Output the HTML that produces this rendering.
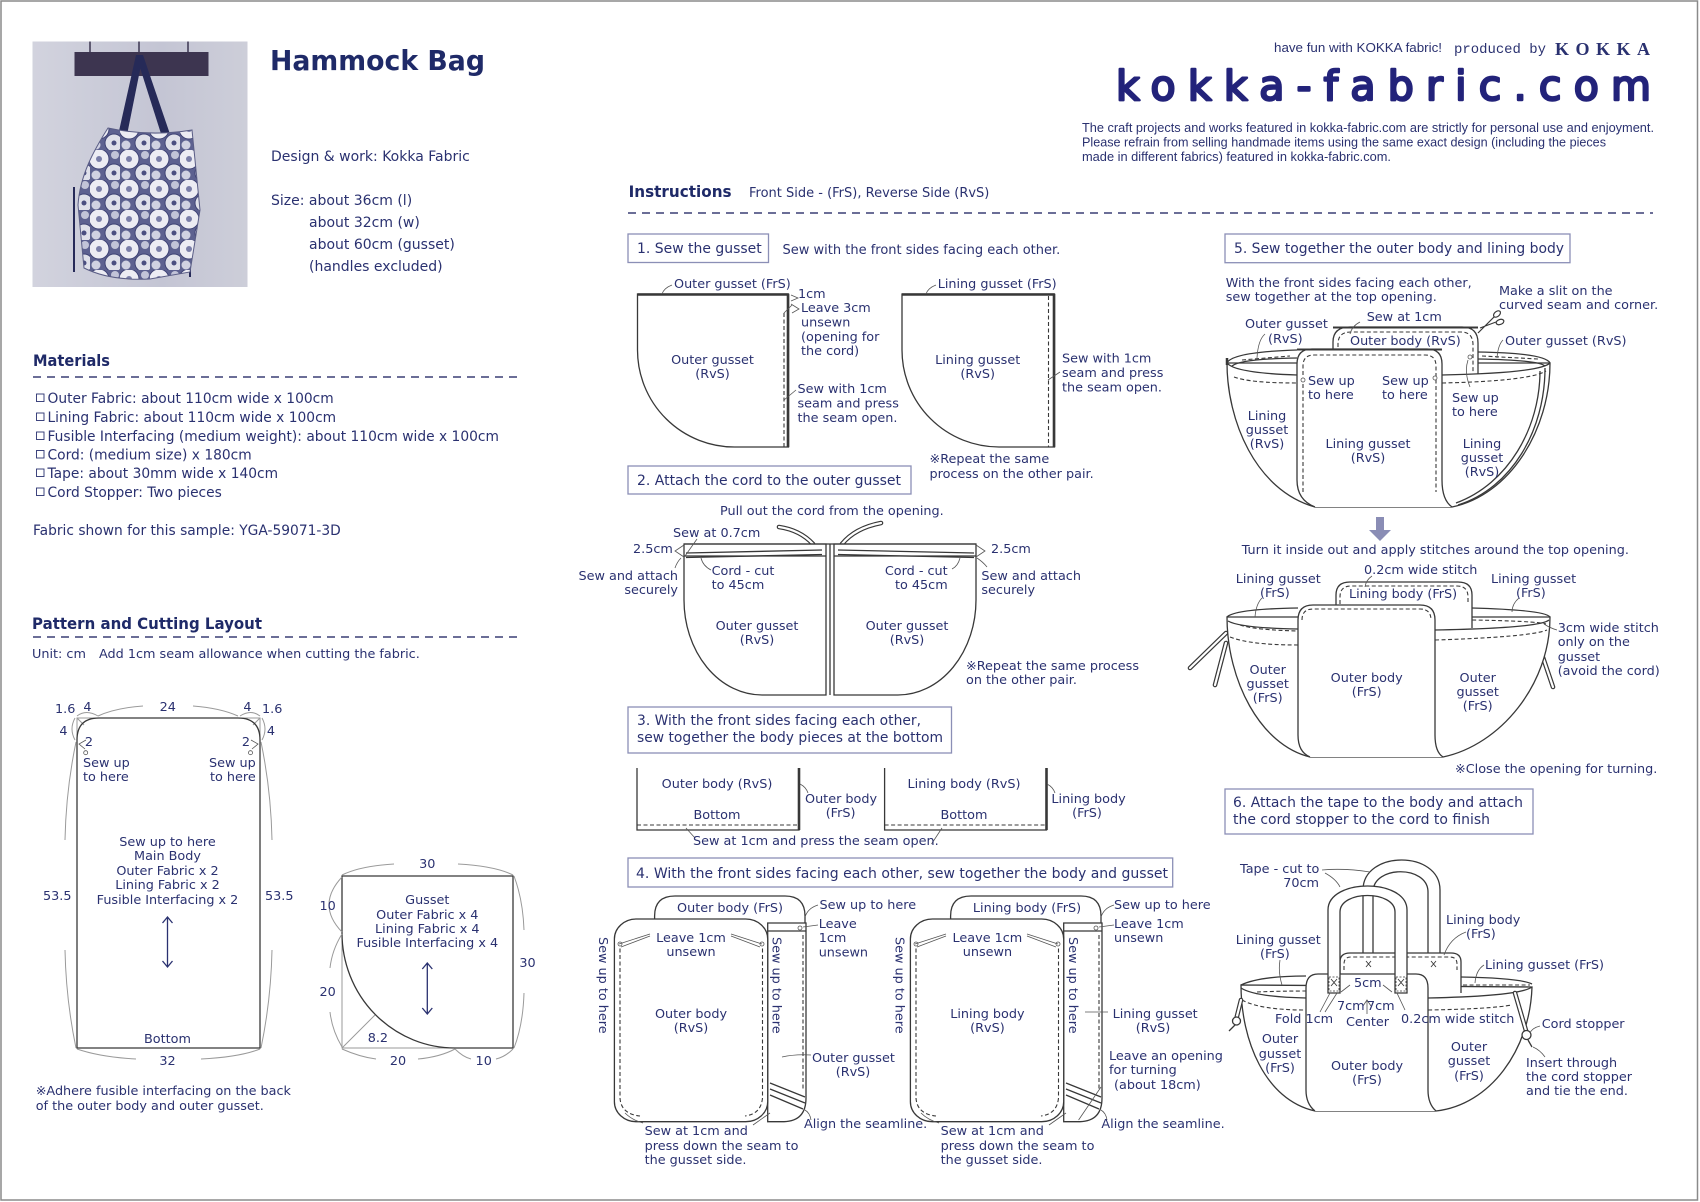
<!DOCTYPE html>
<html><head><meta charset="utf-8">
<style>
html,body{margin:0;padding:0;background:#fff;}
svg{display:block;}
text{font-family:"DejaVu Sans","Noto Sans CJK JP",sans-serif;fill:#2a3170;font-size:12.8px;}
.s14{font-size:14px;}
.s13{font-size:13px;}
.s138{font-size:13.8px;}
.bd{font-weight:bold;fill:#1f2a68;}
.h16{font-size:16px;}
.mid{text-anchor:middle;}
.end{text-anchor:end;}
.l{fill:none;stroke:#383838;stroke-width:1.3;}
.lw{fill:#fff;stroke:#383838;stroke-width:1.3;}
.lt{fill:none;stroke:#383838;stroke-width:2.6;}
.d{fill:none;stroke:#383838;stroke-width:1.1;stroke-dasharray:4 2.5;}
.g{fill:none;stroke:#9a9a9a;stroke-width:1;}
.ld{fill:none;stroke:#555;stroke-width:0.8;}
.hd{stroke:#3a3f75;stroke-width:1.6;stroke-dasharray:8 6;}
.bx{fill:none;stroke:#8b8fb6;stroke-width:1.3;}
.cord1{fill:none;stroke:#383838;stroke-width:4.6;stroke-linecap:round;}
.cord2{fill:none;stroke:#fff;stroke-width:2.2;stroke-linecap:round;}
</style></head><body>
<svg width="1700" height="1202" viewBox="0 0 1700 1202" xmlns="http://www.w3.org/2000/svg">
<defs>
<pattern id="fl" width="30" height="30" patternUnits="userSpaceOnUse">
<rect width="30" height="30" fill="#5d6190"/>
<circle cx="9" cy="9" r="10" fill="#ececf3" stroke="#3e4274" stroke-width="1"/>
<circle cx="9" cy="9" r="3" fill="#7a7ea8"/>
<circle cx="24" cy="23" r="9" fill="#dfe0ea" stroke="#3e4274" stroke-width="1"/>
<circle cx="24" cy="23" r="2.5" fill="#4a4e80"/>
<circle cx="25" cy="5" r="4" fill="#c2c4d8"/>
<circle cx="6" cy="25" r="4.5" fill="#d0d1e2"/>
</pattern>
<linearGradient id="bg" x1="0" x2="1" y1="0" y2="0">
<stop offset="0" stop-color="#d2d3de"/><stop offset="0.6" stop-color="#c4c5d4"/><stop offset="1" stop-color="#cdced9"/>
</linearGradient>
</defs>

<!-- frame -->
<rect x="1" y="1" width="1696.5" height="1199" fill="none" stroke="#8a8a8a" stroke-width="1.5"/>

<!-- photo -->
<rect x="32.5" y="41.5" width="215" height="245.5" fill="url(#bg)"/>
<line x1="90" y1="41.5" x2="90" y2="60" stroke="#3b3550" stroke-width="1.5"/>
<line x1="139" y1="41.5" x2="139" y2="60" stroke="#3b3550" stroke-width="1.5"/>
<line x1="188" y1="41.5" x2="188" y2="60" stroke="#3b3550" stroke-width="1.5"/>
<rect x="74.5" y="52" width="134" height="24" fill="#3d3550"/>
<polygon points="136,55 143,55 126,140 117,140" fill="#262a58"/>
<polygon points="136,55 143,55 172,140 163,140" fill="#262a58"/>
<path d="M74,187 L74,272" stroke="#262a58" stroke-width="2"/>
<path d="M190,228 L190,277" stroke="#262a58" stroke-width="2"/>
<path d="M108,128 C94,150 80,175 78,205 L84,268 Q110,281 150,279 L190,272 L200,210 L192,130 Q150,137 108,128 Z" fill="url(#fl)"/>
<path d="M108,128 C94,150 80,175 78,205 L84,268 Q110,281 150,279 L190,272 L200,210 L192,130 Q150,137 108,128 Z" fill="none" stroke="#5a5d85" stroke-width="1"/>

<!-- title block -->
<text x="270" y="70" class="bd" style="font-size:28px" textLength="215" lengthAdjust="spacingAndGlyphs">Hammock Bag</text>
<text x="271" y="161" class="s14">Design &amp; work: Kokka Fabric</text>
<text x="271" y="205" class="s14">Size: about 36cm (l)</text>
<text x="309" y="227" class="s14">about 32cm (w)</text>
<text x="309" y="249" class="s14">about 60cm (gusset)</text>
<text x="309" y="271" class="s14">(handles excluded)</text>

<!-- top right -->
<text x="1274" y="52" style="font-family:'Liberation Sans',sans-serif;font-size:13px" textLength="168" lengthAdjust="spacingAndGlyphs">have fun with KOKKA fabric!</text>
<text x="1454" y="53" style="font-family:'Liberation Mono',monospace;font-size:14px" textLength="92" lengthAdjust="spacingAndGlyphs">produced by</text>
<text x="1555" y="55" style="font-family:'Liberation Serif',serif;font-size:18px;font-weight:bold" textLength="95" lengthAdjust="spacing">KOKKA</text>
<text x="1116" y="100" style="font-family:'DejaVu Sans',sans-serif;font-size:41px;fill:#23237a;stroke:#23237a;stroke-width:2.4;stroke-linejoin:round" textLength="535" lengthAdjust="spacing">kokka-fabric.com</text>
<text x="1082" y="132" style="font-family:'Liberation Sans',sans-serif;font-size:12.5px" textLength="572" lengthAdjust="spacingAndGlyphs">The craft projects and works featured in kokka-fabric.com are strictly for personal use and enjoyment.</text>
<text x="1082" y="146.5" style="font-family:'Liberation Sans',sans-serif;font-size:12.5px" textLength="524" lengthAdjust="spacingAndGlyphs">Please refrain from selling handmade items using the same exact design (including the pieces</text>
<text x="1082" y="161" style="font-family:'Liberation Sans',sans-serif;font-size:12.5px" textLength="309" lengthAdjust="spacingAndGlyphs">made in different fabrics) featured in kokka-fabric.com.</text>

<!-- Materials -->
<text x="33" y="366" class="bd h16" textLength="77" lengthAdjust="spacingAndGlyphs">Materials</text>
<line x1="33" y1="377" x2="522" y2="377" class="hd"/>
<g fill="none" stroke="#2a3170" stroke-width="0.9">
<rect x="36.5" y="394" width="7.5" height="7.5"/>
<rect x="36.5" y="413" width="7.5" height="7.5"/>
<rect x="36.5" y="432" width="7.5" height="7.5"/>
<rect x="36.5" y="450.5" width="7.5" height="7.5"/>
<rect x="36.5" y="469" width="7.5" height="7.5"/>
<rect x="36.5" y="488" width="7.5" height="7.5"/>
</g>
<text x="47.5" y="403" class="s138">Outer Fabric: about 110cm wide x 100cm</text>
<text x="47.5" y="422" class="s138">Lining Fabric: about 110cm wide x 100cm</text>
<text x="47.5" y="441" class="s138">Fusible Interfacing (medium weight): about 110cm wide x 100cm</text>
<text x="47.5" y="459.5" class="s138">Cord: (medium size) x 180cm</text>
<text x="47.5" y="478" class="s138">Tape: about 30mm wide x 140cm</text>
<text x="47.5" y="497" class="s138">Cord Stopper: Two pieces</text>
<text x="33" y="535" class="s138">Fabric shown for this sample: YGA-59071-3D</text>

<!-- Pattern -->
<text x="32" y="629" class="bd h16" textLength="230" lengthAdjust="spacingAndGlyphs">Pattern and Cutting Layout</text>
<line x1="33" y1="637" x2="522" y2="637" class="hd"/>
<text x="32" y="658">Unit: cm</text>
<text x="99" y="658">Add 1cm seam allowance when cutting the fabric.</text>

<!-- main body pattern -->
<path class="g" d="M77,740 V718 H98 M240,718 H260 V740 M77,718 L84,725 M260,718 L253,725"/>
<path class="l" d="M77,1048 V740 Q77,718 99,718 H238 Q260,718 260,740 V1048 Z"/>
<path class="g" d="M76,742 Q66,790 65,840 M65,950 Q66,1000 76,1048 M261,742 Q271,790 272,840 M272,950 Q271,1000 261,1048"/>
<path class="g" d="M98,716 Q115,708 143,706 M193,706 Q220,708 238,716 M77,1049 Q100,1057 136,1059 M201,1059 Q240,1057 260,1049"/>
<path class="g" d="M77,716 Q86,709 98,716 M260,716 Q251,709 240,716 M75,718 Q69,729 75,740 M262,718 Q268,729 262,740"/>
<path class="ld" d="M86,740 L79,744 L85,749 M251,740 L258,744 L252,749"/>
<circle cx="85.7" cy="752.7" r="2" fill="#fff" stroke="#555" stroke-width="0.8"/>
<circle cx="250.5" cy="752.7" r="2" fill="#fff" stroke="#555" stroke-width="0.8"/>
<text x="55" y="713">1.6</text><text x="87.5" y="711" class="mid">4</text>
<text x="63.5" y="735" class="mid">4</text><text x="89" y="746" class="mid">2</text>
<text x="167.8" y="711" class="mid">24</text>
<text x="247.5" y="711" class="mid">4</text><text x="262" y="713">1.6</text>
<text x="271" y="735" class="mid">4</text><text x="246" y="746" class="mid">2</text>
<text x="83" y="767">Sew up</text><text x="83" y="781">to here</text>
<text x="209" y="767">Sew up</text><text x="210" y="781">to here</text>
<text x="167.5" y="846" class="mid">Sew up to here</text>
<text x="167.5" y="860" class="mid">Main Body</text>
<text x="167.5" y="875" class="mid">Outer Fabric x 2</text>
<text x="167.5" y="889" class="mid">Lining Fabric x 2</text>
<text x="167.5" y="904" class="mid">Fusible Interfacing x 2</text>
<path d="M167.5,918 V966 M162.5,923 L167.5,917 L172.5,923 M162.5,961 L167.5,967 L172.5,961" fill="none" stroke="#2a3170" stroke-width="1.3"/>
<text x="167.5" y="1043" class="mid">Bottom</text>
<text x="167.5" y="1065" class="mid">32</text>
<text x="43" y="900">53.5</text>
<text x="265" y="900">53.5</text>

<!-- gusset pattern -->
<path class="g" d="M342,933 V1048 H455 M342,1048 L375,1015"/>
<path class="l" d="M342,933 V876 H513 V1048 H455 A113,115 0 0 1 342,933"/>
<path class="g" d="M342,875 Q360,866 394,864 M458,864 Q495,866 513,875 M514,876 Q523,900 524,930 M524,993 Q523,1025 514,1048 M342,877 Q316,905 342,932 M342,934 Q332,950 330,968 M330,1012 Q332,1030 342,1047 M342,1049 Q360,1057 376,1059 M418,1059 Q440,1057 455,1049 M455,1049 Q463,1057 471,1059 M496,1059 Q505,1057 513,1049"/>
<text x="427.3" y="868" class="mid">30</text>
<text x="519.4" y="967">30</text>
<text x="319.5" y="910">10</text>
<text x="319.5" y="996">20</text>
<text x="398" y="1065" class="mid">20</text>
<text x="483.7" y="1065" class="mid">10</text>
<text x="367.7" y="1042">8.2</text>
<text x="427.3" y="904" class="mid">Gusset</text>
<text x="427.3" y="919" class="mid">Outer Fabric x 4</text>
<text x="427.3" y="933" class="mid">Lining Fabric x 4</text>
<text x="427.3" y="947" class="mid">Fusible Interfacing x 4</text>
<path d="M427.3,964 V1013 M422.3,969 L427.3,963 L432.3,969 M422.3,1008 L427.3,1014 L432.3,1008" fill="none" stroke="#2a3170" stroke-width="1.3"/>
<text x="35.7" y="1095">※Adhere fusible interfacing on the back</text>
<text x="35.7" y="1110">of the outer body and outer gusset.</text>

<!-- Instructions header -->
<text x="628.6" y="197" class="bd h16" textLength="103" lengthAdjust="spacingAndGlyphs">Instructions</text>
<text x="749" y="197" class="s13">Front Side - (FrS), Reverse Side (RvS)</text>
<line x1="628" y1="213" x2="1653" y2="213" class="hd"/>

<!-- Step 1 -->
<rect x="628" y="234" width="140.5" height="28.5" class="bx"/>
<text x="637" y="253" class="s14" textLength="124.7" lengthAdjust="spacingAndGlyphs">1. Sew the gusset</text>
<text x="782.5" y="254" class="s13">Sew with the front sides facing each other.</text>
<path class="l" d="M637.5,294 H788.5 V447 H735 A97,97 0 0 1 637.5,350 Z"/>
<line x1="637.5" y1="294.5" x2="788.5" y2="294.5" class="lt"/>
<line x1="788" y1="294" x2="788" y2="447" class="lt"/>
<line x1="784" y1="313" x2="784" y2="447" class="d"/>
<path class="ld" d="M662,294 Q664,288 672,285 M791,295 L798,298 L791,301 M791,304 L799,309 L792,313 M784,313 L792,305 M784,400 L796,390"/>
<text x="674" y="288">Outer gusset (FrS)</text>
<text x="798" y="298">1cm</text>
<text x="801" y="312">Leave 3cm</text>
<text x="801" y="326.5">unsewn</text>
<text x="801" y="341">(opening for</text>
<text x="801" y="355">the cord)</text>
<text x="712.5" y="364" class="mid">Outer gusset</text>
<text x="712.5" y="378" class="mid">(RvS)</text>
<text x="797.5" y="393">Sew with 1cm</text>
<text x="797.5" y="407.5">seam and press</text>
<text x="797.5" y="422">the seam open.</text>

<path class="l" d="M902,294 H1054.5 V447 H999 A97,97 0 0 1 902,350 Z"/>
<line x1="902" y1="294.5" x2="1054.5" y2="294.5" class="lt"/>
<line x1="1054" y1="294" x2="1054" y2="447" class="lt"/>
<line x1="1048.5" y1="296" x2="1048.5" y2="447" class="d"/>
<path class="ld" d="M926,294 Q928,288 936,285 M1048,380 L1060,372"/>
<text x="937.7" y="288">Lining gusset (FrS)</text>
<text x="977.7" y="364" class="mid">Lining gusset</text>
<text x="977.7" y="378" class="mid">(RvS)</text>
<text x="1062" y="362.7">Sew with 1cm</text>
<text x="1062" y="377">seam and press</text>
<text x="1062" y="391.5">the seam open.</text>
<text x="929.5" y="463">※Repeat the same</text>
<text x="929.5" y="478">process on the other pair.</text>

<!-- Step 2 -->
<rect x="628" y="466" width="283" height="28" class="bx"/>
<text x="637" y="485" class="s14" textLength="264" lengthAdjust="spacingAndGlyphs">2. Attach the cord to the outer gusset</text>
<path class="cord1" d="M813,544 Q800,530 779,527 M842,544 Q855,528 881,523"/>
<path class="cord2" d="M813,544 Q800,530 779,527 M842,544 Q855,528 881,523"/>
<path class="lw" d="M684,544 V600 A78,95 0 0 0 762,695 H826 V544 Z"/>
<path class="lw" d="M834,544 V695 H898 A78,95 0 0 0 976,600 V544 Z"/>
<line x1="684" y1="544" x2="976" y2="544" class="l"/>
<line x1="684" y1="556" x2="826" y2="556" class="l"/>
<line x1="834" y1="556" x2="976" y2="556" class="l"/>
<path class="l" d="M686,553 L822,550 M686,557.5 L822,554.5 M838,550 L974,553 M838,554.5 L974,557.5"/>
<line x1="830" y1="544" x2="830" y2="695" class="l"/>
<path class="ld" d="M684,545 L675,551 L684,557 M976,545 L985,551 L976,557 M697,539 L685,556 M681,558 Q677,562 675,568 M977,558 Q983,562 987,567 M701,558 Q703,566 711,570 M960,558 Q958,566 952,569"/>
<text x="720" y="515">Pull out the cord from the opening.</text>
<text x="673" y="537">Sew at 0.7cm</text>
<text x="633" y="553">2.5cm</text>
<text x="678" y="580" class="end">Sew and attach</text>
<text x="678" y="594" class="end">securely</text>
<text x="711.6" y="575">Cord - cut</text>
<text x="711.6" y="589">to 45cm</text>
<text x="757" y="630" class="mid">Outer gusset</text>
<text x="757" y="644" class="mid">(RvS)</text>
<text x="907" y="630" class="mid">Outer gusset</text>
<text x="907" y="644" class="mid">(RvS)</text>
<text x="947.7" y="575" class="end">Cord - cut</text>
<text x="947.7" y="589" class="end">to 45cm</text>
<text x="991" y="553">2.5cm</text>
<text x="981.4" y="580">Sew and attach</text>
<text x="981.4" y="594">securely</text>
<text x="966" y="670">※Repeat the same process</text>
<text x="966" y="684">on the other pair.</text>

<!-- Step 3 -->
<rect x="628" y="707" width="323.5" height="46" class="bx"/>
<text x="637" y="725" class="s14" textLength="284" lengthAdjust="spacingAndGlyphs">3. With the front sides facing each other,</text>
<text x="637" y="742" class="s14" textLength="306" lengthAdjust="spacingAndGlyphs">sew together the body pieces at the bottom</text>
<path class="l" d="M637,768 V830 H799 V768"/>
<line x1="799" y1="768" x2="799" y2="830" class="lt"/>
<line x1="637" y1="825" x2="799" y2="825" class="d"/>
<path class="l" d="M884.6,768 V830 H1046.5 V768"/>
<line x1="1046.5" y1="768" x2="1046.5" y2="830" class="lt"/>
<line x1="884.6" y1="825" x2="1046.5" y2="825" class="d"/>
<path class="ld" d="M800,784 Q806,787 808,793 M1047,784 Q1053,787 1055,793 M686,828 L695,838 M931.5,844 L942,828"/>
<text x="717" y="788" class="mid">Outer body (RvS)</text>
<text x="717" y="819" class="mid">Bottom</text>
<text x="805" y="803">Outer body</text>
<text x="840.6" y="817" class="mid">(FrS)</text>
<text x="964" y="788" class="mid">Lining body (RvS)</text>
<text x="964" y="819" class="mid">Bottom</text>
<text x="1051.4" y="803">Lining body</text>
<text x="1087" y="817" class="mid">(FrS)</text>
<text x="693" y="845">Sew at 1cm and press the seam open.</text>

<!-- Step 4 -->
<rect x="628" y="858" width="544.7" height="29" class="bx"/>
<text x="636" y="878" class="s14" textLength="532" lengthAdjust="spacingAndGlyphs">4. With the front sides facing each other, sew together the body and gusset</text>

<g id="s4">
<path class="lw" d="M654.6,930 V916 Q654.6,896 675,896 H785 Q805,896 805,916 V930"/>
<path class="lw" d="M767.7,923 H806 V1098 Q806,1121 784,1121.7 H767.7 Z"/>
<line x1="767.7" y1="931" x2="806" y2="931" class="l"/>
<line x1="803" y1="935" x2="803" y2="1090" class="d"/>
<rect x="614.4" y="919" width="153.3" height="202.7" rx="22" ry="20" class="lw"/>
<path class="d" d="M620,942 V1098 Q621,1114 640,1116 M762.5,942 V1098 Q761,1114 745,1116"/>
<path class="l" d="M770,1083 L805,1097 M770,1089 L805,1103 M770,1095 L803,1109"/>
<circle cx="620" cy="944" r="2" fill="#fff" stroke="#555" stroke-width="0.8"/>
<circle cx="762" cy="944" r="2" fill="#fff" stroke="#555" stroke-width="0.8"/>
<circle cx="800" cy="928" r="2" fill="#fff" stroke="#555" stroke-width="0.8"/>
<path class="ld" d="M650,934 L619,944 M650,936 L621,947 M731,934 L762,944 M731,936 L760,947 M818,905 Q808,908 805,917 M818,925 L803,927 M643,1123 Q632,1120 625,1113 M753,1125 L770,1113"/>
</g>
<use href="#s4" transform="translate(296,0)"/>
<path class="ld" d="M811,1055 Q795,1054 782,1057 M811,1120 Q810,1113 805,1110 M1107,1120 Q1106,1113 1101,1110 M1108,1012 L1085,1012 M1101,1087 L1078.6,1120"/>

<text x="730" y="912" class="mid">Outer body (FrS)</text>
<text x="819.5" y="909">Sew up to here</text>
<text x="818.7" y="928">Leave</text>
<text x="818.7" y="942">1cm</text>
<text x="818.7" y="956.5">unsewn</text>
<text x="691" y="942" class="mid">Leave 1cm</text>
<text x="691" y="956" class="mid">unsewn</text>
<text transform="translate(599,937) rotate(90)">Sew up to here</text>
<text transform="translate(772.5,937) rotate(90)">Sew up to here</text>
<text x="691" y="1018" class="mid">Outer body</text>
<text x="691" y="1032" class="mid">(RvS)</text>
<text x="812" y="1062">Outer gusset</text>
<text x="853" y="1076" class="mid">(RvS)</text>
<text x="804" y="1128">Align the seamline.</text>
<text x="644.6" y="1135">Sew at 1cm and</text>
<text x="644.6" y="1150">press down the seam to</text>
<text x="644.6" y="1164">the gusset side.</text>

<text x="1027" y="912" class="mid">Lining body (FrS)</text>
<text x="1114" y="909">Sew up to here</text>
<text x="1114" y="928">Leave 1cm</text>
<text x="1114" y="942">unsewn</text>
<text x="987.4" y="942" class="mid">Leave 1cm</text>
<text x="987.4" y="956" class="mid">unsewn</text>
<text transform="translate(895.5,937) rotate(90)">Sew up to here</text>
<text transform="translate(1069,937) rotate(90)">Sew up to here</text>
<text x="987.4" y="1018" class="mid">Lining body</text>
<text x="987.4" y="1032" class="mid">(RvS)</text>
<text x="1112.6" y="1018">Lining gusset</text>
<text x="1153" y="1032" class="mid">(RvS)</text>
<text x="1109" y="1060">Leave an opening</text>
<text x="1109" y="1074">for turning</text>
<text x="1114" y="1089">(about 18cm)</text>
<text x="1101.4" y="1128">Align the seamline.</text>
<text x="940.6" y="1135">Sew at 1cm and</text>
<text x="940.6" y="1150">press down the seam to</text>
<text x="940.6" y="1164">the gusset side.</text>

<!-- Step 5 -->
<rect x="1225" y="234" width="345" height="28.7" class="bx"/>
<text x="1234" y="253" class="s14" textLength="330" lengthAdjust="spacingAndGlyphs">5. Sew together the outer body and lining body</text>
<text x="1225.7" y="287">With the front sides facing each other,</text>
<text x="1225.7" y="301">sew together at the top opening.</text>
<text x="1499" y="295">Make a slit on the</text>
<text x="1499" y="309">curved seam and corner.</text>

<path class="lw" d="M1227,363 C1227,420 1255,490 1315,507 H1452 C1510,495 1550,430 1550,363 Z"/>
<path class="l" d="M1545,368 C1545,430 1512,488 1458,505 M1540,371 C1540,428 1508,484 1456,503"/>
<path class="lw" d="M1333,374 V342 Q1333,327 1350,327 H1462 Q1478,327 1478,343 V374"/>
<line x1="1333" y1="327.5" x2="1478" y2="327.5" stroke="#383838" stroke-width="2"/>
<path class="d" d="M1338,360 V344 Q1338,332 1351,332 H1461 Q1473,332 1473,345 V372"/>
<path class="l" d="M1227,363 Q1232,352 1297,350 M1232,366 Q1240,359 1297,358 M1227,363 Q1235,373 1297,375 M1478,352 Q1545,353 1550,363 M1478,359 Q1538,360 1545,366 M1442,375 Q1540,373 1550,363"/>
<line x1="1227" y1="358" x2="1227" y2="365" stroke="#383838" stroke-width="2.5"/>
<path class="d" d="M1234,377 Q1250,383 1297,383 M1442,383 Q1530,381 1546,371 M1242,360 L1290,356 M1482,356 L1538,359"/>
<path class="lw" d="M1315,507 Q1297,500 1297,480 V364 Q1297,349 1312,349 H1427 Q1442,349 1442,364 V480 Q1442,500 1452,507"/>
<line x1="1297" y1="349.5" x2="1442" y2="349.5" stroke="#383838" stroke-width="2"/>
<path class="d" d="M1303,492 V366 Q1303,355 1314,355 H1425 Q1436,355 1436,366 V492"/>
<circle cx="1303" cy="380" r="2" fill="#fff" stroke="#555" stroke-width="0.8"/>
<circle cx="1435" cy="378" r="2" fill="#fff" stroke="#555" stroke-width="0.8"/>
<circle cx="1470" cy="357" r="2" fill="#fff" stroke="#555" stroke-width="0.8"/>
<path class="ld" d="M1360,322 Q1352,326 1350,334 M1265,334 Q1258,340 1257,358 M1503,340 Q1498,345 1497,358 M1468,360 Q1464,372 1470,387"/>
<!-- scissors -->
<g stroke="#383838" stroke-width="1.2" fill="none">
<ellipse cx="1497" cy="314" rx="4" ry="2.5" transform="rotate(-40 1497 314)"/>
<ellipse cx="1500" cy="322" rx="4" ry="2.5" transform="rotate(-20 1500 322)"/>
<path d="M1494,317 L1478,333 M1496,322 L1480,328"/>
</g>
<text x="1366.7" y="321">Sew at 1cm</text>
<text x="1245" y="328">Outer gusset</text>
<text x="1268" y="343">(RvS)</text>
<text x="1350" y="345">Outer body (RvS)</text>
<text x="1505" y="345">Outer gusset (RvS)</text>
<text x="1308" y="385">Sew up</text><text x="1308" y="399">to here</text>
<text x="1382" y="385">Sew up</text><text x="1382" y="399">to here</text>
<text x="1452" y="402">Sew up</text><text x="1452" y="416">to here</text>
<text x="1267" y="420" class="mid">Lining</text>
<text x="1267" y="434" class="mid">gusset</text>
<text x="1267" y="448" class="mid">(RvS)</text>
<text x="1368" y="448" class="mid">Lining gusset</text>
<text x="1368" y="462" class="mid">(RvS)</text>
<text x="1482" y="448" class="mid">Lining</text>
<text x="1482" y="462" class="mid">gusset</text>
<text x="1482" y="476" class="mid">(RvS)</text>

<path d="M1376,517 H1384 V530 H1391 L1380,541 L1369,530 H1376 Z" fill="#8a8db5"/>
<text x="1241.7" y="554">Turn it inside out and apply stitches around the top opening.</text>

<!-- step 5 bottom bowl -->
<path class="cord1" d="M1226,633 L1190,668 M1226,643 L1215,685 M1532,625 L1520,698 M1532,625 L1553,687"/>
<path class="cord2" d="M1226,633 L1190,668 M1226,643 L1215,685 M1532,625 L1520,698 M1532,625 L1553,687"/>
<path class="lw" d="M1227,617 C1227,680 1260,745 1310,757 H1443 C1500,745 1550,685 1550,617 Z"/>
<path class="lw" d="M1336,628 V595 Q1336,582 1350,582 H1458 Q1472,582 1472,595 V628"/>
<path class="d" d="M1340,604 V597 Q1340,586 1351,586 H1457 Q1468,586 1468,597 V604"/>
<path class="l" d="M1227,617 Q1235,609 1298,608 M1472,608 Q1545,610 1550,617 M1228,621 Q1240,628 1298,629 M1435,630 Q1540,628 1549,620"/>
<path class="d" d="M1240,625 Q1255,630 1298,631 M1230,637 Q1250,645 1298,645 M1435,640 Q1530,637 1547,630 M1472,620 Q1535,621 1546,624"/>
<path class="lw" d="M1310,757 Q1298,752 1298,735 V620 Q1298,605 1313,605 H1420 Q1435,605 1435,620 V735 Q1435,752 1443,757"/>
<path class="d" d="M1302,620 Q1302,609 1313,609 H1420 Q1431,609 1431,620"/>
<path class="ld" d="M1372,576 Q1366,580 1365,587 M1262,598 Q1256,604 1255,617 M1519,598 Q1512,604 1512,612 M1557,630 Q1550,628 1544,624"/>
<text x="1364" y="574">0.2cm wide stitch</text>
<text x="1235.7" y="583">Lining gusset</text>
<text x="1260" y="597">(FrS)</text>
<text x="1491" y="583">Lining gusset</text>
<text x="1516" y="597">(FrS)</text>
<text x="1349" y="598">Lining body (FrS)</text>
<text x="1557.7" y="632">3cm wide stitch</text>
<text x="1557.7" y="646">only on the</text>
<text x="1557.7" y="661">gusset</text>
<text x="1557.7" y="675">(avoid the cord)</text>
<text x="1267.7" y="674" class="mid">Outer</text>
<text x="1267.7" y="688" class="mid">gusset</text>
<text x="1267.7" y="702" class="mid">(FrS)</text>
<text x="1366.7" y="682" class="mid">Outer body</text>
<text x="1366.7" y="696" class="mid">(FrS)</text>
<text x="1477.7" y="682" class="mid">Outer</text>
<text x="1477.7" y="696" class="mid">gusset</text>
<text x="1477.7" y="710" class="mid">(FrS)</text>
<text x="1455" y="773">※Close the opening for turning.</text>

<!-- Step 6 -->
<rect x="1225" y="789" width="308" height="45" class="bx"/>
<text x="1233" y="807" class="s14" textLength="290" lengthAdjust="spacingAndGlyphs">6. Attach the tape to the body and attach</text>
<text x="1233" y="824" class="s14" textLength="257" lengthAdjust="spacingAndGlyphs">the cord stopper to the cord to finish</text>

<path class="lw" d="M1363,960 V890 C1363,850 1440,850 1440,890 V960 H1428 V892 C1428,865 1373,865 1373,892 V960 Z"/>
<path class="lw" d="M1241,985 C1241,1040 1265,1100 1315,1111 H1436 C1490,1105 1530,1050 1532,987 Z"/>
<path class="lw" d="M1340,990 V962 Q1340,953 1350,953 H1451 Q1461,953 1461,962 V993"/>
<path class="d" d="M1344,970 V964 Q1344,957 1351,957 H1450 Q1457,957 1457,964 V970"/>
<path class="l" d="M1241,985 Q1260,976 1306,976 M1461,977 Q1520,978 1532,984 M1241,988 Q1255,997 1306,998 M1428,998 Q1520,996 1532,987"/>
<path class="d" d="M1257,992 Q1280,991 1306,991 M1242,1000 Q1260,1010 1306,1010 M1428,1010 Q1490,1009 1512,1005 M1463,985 Q1510,985 1530,985"/>
<path class="lw" d="M1315,1111 Q1306,1104 1306,1090 V988 Q1306,974 1318,974 H1416 Q1428,974 1428,988 V1090 Q1428,1104 1436,1111"/>
<path class="lw" d="M1328,993 V910 C1328,878 1407,878 1407,910 V993 H1395 V912 C1395,890 1340,890 1340,912 V993 Z"/>
<g fill="none" stroke="#383838" stroke-width="0.8" stroke-dasharray="2 1.5">
<rect x="1329" y="977" width="10" height="14"/>
<rect x="1396" y="977" width="10" height="14"/>
</g>
<g fill="none" stroke="#383838" stroke-width="0.9">
<path d="M1331,979 L1337,986 M1337,979 L1331,986 M1398,979 L1404,986 M1404,979 L1398,986 M1366,961 L1371,967 M1371,961 L1366,967 M1431,961 L1436,967 M1436,961 L1431,967"/>
</g>
<path class="cord1" d="M1241,1000 L1236,1020 M1515,993 L1527,1034"/>
<path class="cord2" d="M1241,1000 L1236,1020 M1515,993 L1527,1034"/>
<circle cx="1236.5" cy="1021" r="4" fill="#fff" stroke="#383838" stroke-width="1.3"/>
<circle cx="1526.5" cy="1035" r="4.5" fill="#fff" stroke="#383838" stroke-width="1.3"/>
<path class="l" d="M1235,1025 L1229,1031 M1528,1040 L1532,1047"/>
<path class="ld" d="M1322,870 Q1345,868 1370,872 M1325,873 Q1336,879 1340,887 M1466,932 Q1450,938 1444,955 M1280,960 Q1278,972 1282,985 M1484,965 Q1476,970 1475,983 M1341,992 L1350,985 M1392,992 L1383,985 M1363,1006 L1367,1000 L1371,1006 M1367,1000 V1014 M1320,1012 L1330,993 M1325,1012 L1337,993 M1405,1010 L1397,993 M1540,1026 Q1532,1028 1530,1033 M1545,1057 Q1540,1050 1533,1047"/>
<text x="1240" y="873">Tape - cut to</text>
<text x="1319" y="887" class="end">70cm</text>
<text x="1446" y="924">Lining body</text>
<text x="1466" y="938">(FrS)</text>
<text x="1235.7" y="944">Lining gusset</text>
<text x="1260" y="958">(FrS)</text>
<text x="1485" y="969">Lining gusset (FrS)</text>
<text x="1354" y="987">5cm</text>
<text x="1337" y="1010">7cm</text>
<text x="1367" y="1010">7cm</text>
<text x="1275" y="1023">Fold 1cm</text>
<text x="1346" y="1026">Center</text>
<text x="1401" y="1023">0.2cm wide stitch</text>
<text x="1541.7" y="1028">Cord stopper</text>
<text x="1280" y="1043" class="mid">Outer</text>
<text x="1280" y="1058" class="mid">gusset</text>
<text x="1280" y="1072" class="mid">(FrS)</text>
<text x="1367" y="1070" class="mid">Outer body</text>
<text x="1367" y="1084" class="mid">(FrS)</text>
<text x="1469" y="1051" class="mid">Outer</text>
<text x="1469" y="1065" class="mid">gusset</text>
<text x="1469" y="1080" class="mid">(FrS)</text>
<text x="1526" y="1067">Insert through</text>
<text x="1526" y="1081">the cord stopper</text>
<text x="1526" y="1095">and tie the end.</text>
</svg>
</body></html>
